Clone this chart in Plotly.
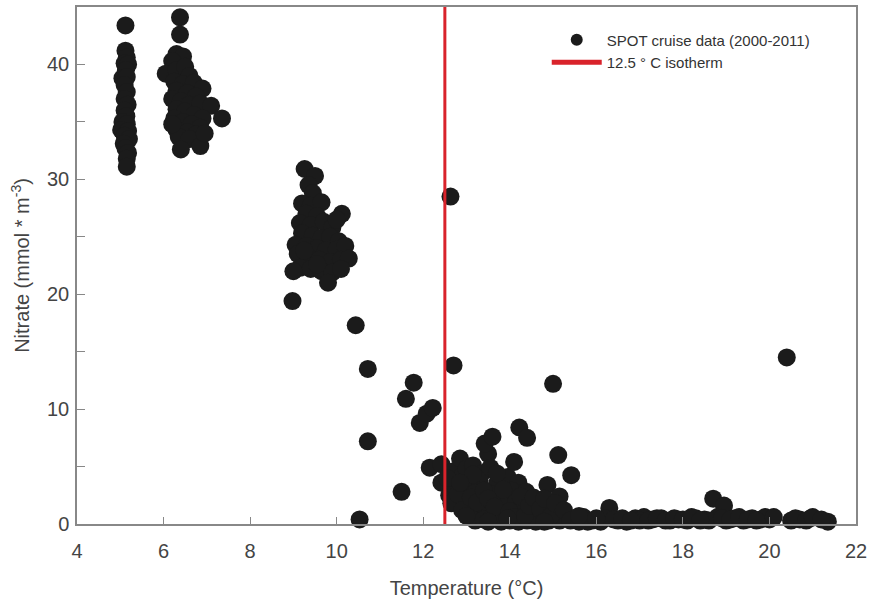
import plotly.graph_objects as go

# Temperature (°C) and nitrate (mmol m^-3)
temp_c1 = [5.12, 5.12, 5.15, 5.10, 5.18, 5.13, 5.05, 5.15, 5.10, 5.15, 5.10, 5.17, 5.10, 5.14,
           5.05, 5.15, 5.02, 5.18, 5.10, 5.20, 5.08, 5.12, 5.18, 5.15, 5.15]
nitr_c1 = [43.4, 41.2, 40.6, 40.1, 40.0, 39.5, 38.8, 38.9, 38.2, 37.6, 37.0, 36.5, 36.0, 35.5,
           35.0, 34.8, 34.3, 34.2, 33.8, 33.5, 33.1, 32.7, 32.3, 31.8, 31.1]

temp_c2 = [6.38, 6.38, 6.30, 6.45, 6.20, 6.05, 6.30, 6.50, 6.60, 6.25, 6.45, 6.70, 6.90, 6.30,
           6.55, 6.75, 6.20, 6.40, 6.60, 6.85, 7.10, 6.30, 6.50, 6.70, 6.90, 7.35, 6.25, 6.45,
           6.65, 6.85, 6.30, 6.55, 6.75, 6.35, 6.60, 6.40, 6.85, 6.20, 6.95]
nitr_c2 = [44.1, 42.6, 40.9, 40.7, 40.3, 39.2, 39.5, 39.8, 39.0, 38.5, 38.3, 38.4, 37.9, 37.7,
           37.5, 37.2, 37.0, 36.8, 36.5, 36.6, 36.4, 36.1, 35.9, 35.6, 35.3, 35.3, 35.3, 35.0,
           34.8, 34.5, 34.3, 34.1, 33.9, 33.7, 33.5, 32.6, 32.9, 34.8, 34.0]

temp_c3 = [9.26, 9.50, 9.35, 9.45, 9.20, 9.40, 9.65, 9.30, 9.55, 10.12, 9.15, 9.40, 9.70, 9.90,
           9.20, 9.45, 9.65, 9.85, 10.05, 9.05, 9.30, 9.55, 9.75, 10.00, 10.20, 9.10, 9.35, 9.60,
           9.85, 10.10, 10.28, 9.15, 9.40, 9.65, 9.90, 10.10, 9.80, 9.00, 8.98, 9.55, 9.25, 10.00]
nitr_c3 = [30.9, 30.3, 29.5, 28.8, 27.9, 27.7, 28.0, 27.0, 26.8, 27.0, 26.2, 26.0, 26.3, 25.8,
           25.3, 25.1, 24.9, 25.0, 24.6, 24.3, 24.2, 24.0, 23.8, 23.9, 24.2, 23.5, 23.2, 23.0,
           22.8, 23.0, 23.1, 22.3, 22.2, 22.0, 21.9, 22.2, 21.0, 22.0, 19.4, 22.6, 23.8, 26.5]

temp_mid = [10.44, 10.72, 10.72, 10.53, 11.50, 11.78, 11.60, 11.92, 12.08, 12.22, 12.63, 12.70,
            15.00, 20.40]
nitr_mid = [17.3, 13.5, 7.2, 0.4, 2.8, 12.3, 10.9, 8.8, 9.6, 10.1, 28.5, 13.8, 12.2, 14.5]

temp_low = [12.15, 12.42, 12.42, 12.60, 12.70, 12.85, 12.90, 12.75, 13.00, 13.15, 13.05, 13.30,
            13.20, 12.95, 13.10, 13.35, 13.50, 13.42, 13.60, 13.55, 13.70, 13.60, 13.80, 13.45,
            13.30, 13.20, 13.40, 13.60, 13.75, 13.90, 13.95, 14.10, 14.20, 14.05, 14.22, 14.40,
            14.15, 14.30, 14.38, 14.50, 14.00, 14.20, 14.60, 14.75, 14.87, 15.00, 15.15, 15.12,
            15.42, 15.30, 14.40, 14.60, 14.90, 15.15, 15.50, 15.70, 15.90, 16.10, 16.30, 16.50,
            16.70, 16.90, 17.10, 17.30, 17.50, 17.70, 17.90, 18.10, 18.30, 18.50, 18.70, 18.95,
            18.80, 19.00, 19.20, 19.40, 19.60, 19.80, 20.00, 20.50, 20.70, 20.95, 21.35, 13.80,
            15.80, 17.00, 18.60, 19.90,
            12.55, 12.65, 12.80, 12.90, 13.00, 13.10, 13.25, 13.40, 13.50, 13.65, 13.70, 13.85,
            14.00, 14.10, 14.25, 14.35, 14.45, 14.55, 14.70, 14.80, 14.95, 15.05, 15.25, 13.15,
            12.85, 13.50, 13.95, 14.80, 15.40, 15.60,
            16.20, 16.40, 16.60, 16.80, 17.20, 17.40, 17.60, 17.80, 18.00, 18.20, 18.40, 18.90,
            19.10, 19.30, 19.50, 19.70, 20.10, 20.60, 20.85, 21.00, 21.20, 15.60, 16.00]
nitr_low = [4.9, 5.2, 3.6, 2.5, 4.6, 5.7, 4.2, 3.2, 4.8, 5.1, 3.5, 3.8,
            2.7, 2.0, 1.6, 4.4, 6.1, 7.0, 7.6, 4.9, 3.5, 2.6, 2.1, 1.3,
            0.9, 0.3, 0.4, 0.6, 1.0, 1.6, 4.1, 5.4, 3.6, 2.9, 8.4, 7.5,
            1.9, 1.2, 2.8, 0.8, 0.3, 0.2, 1.8, 0.5, 3.4, 1.2, 2.4, 6.0,
            4.25, 0.6, 0.3, 0.2, 0.3, 0.3, 0.4, 0.6, 0.3, 0.2, 1.4, 0.3,
            0.2, 0.5, 0.6, 0.4, 0.5, 0.3, 0.4, 0.3, 0.5, 0.4, 2.2, 1.6,
            0.6, 0.3, 0.5, 0.3, 0.5, 0.4, 0.4, 0.3, 0.4, 0.5, 0.2, 0.2,
            0.2, 0.3, 0.3, 0.6,
            4.0, 1.8, 2.6, 1.2, 0.7, 2.3, 1.9, 2.9, 2.2, 1.5, 4.4, 3.0,
            1.1, 0.6, 2.4, 0.7, 1.6, 2.3, 1.3, 2.2, 0.7, 1.8, 1.2, 4.3,
            3.6, 0.2, 0.5, 0.2, 0.3, 0.2,
            0.5, 0.4, 0.5, 0.3, 0.3, 0.5, 0.3, 0.5, 0.4, 0.6, 0.3, 0.5,
            0.4, 0.6, 0.4, 0.3, 0.6, 0.5, 0.3, 0.6, 0.4, 0.7, 0.5]

temperature = temp_c1 + temp_c2 + temp_c3 + temp_mid + temp_low
nitrate = nitr_c1 + nitr_c2 + nitr_c3 + nitr_mid + nitr_low

isotherm_x = [12.5, 12.5]
isotherm_y = [0, 45]

x_ticks = [4, 6, 8, 10, 12, 14, 16, 18, 20, 22]
y_ticks = [0, 5, 10, 15, 20, 25, 30, 35, 40]
y_ticktext = ["0", "", "10", "", "20", "", "30", "", "40"]

FONT = "Liberation Sans, Arial, Helvetica, sans-serif"

fig = go.Figure()
fig.add_trace(go.Scatter(
    x=temperature, y=nitrate, mode="markers", name="SPOT cruise data (2000-2011)",
    marker=dict(size=18, color="#1b1b1b", line=dict(width=0)), cliponaxis=False))
fig.add_trace(go.Scatter(
    x=isotherm_x, y=isotherm_y, mode="lines", name="12.5 ° C isotherm",
    line=dict(color="#d9232b", width=3)))

fig.update_layout(
    width=872, height=604,
    margin=dict(l=77, r=12, t=5, b=80),
    paper_bgcolor="white", plot_bgcolor="white",
    font=dict(family=FONT, color="#444444"),
    showlegend=True,
    legend=dict(x=0.603, y=0.968, xanchor="left", yanchor="top",
                bgcolor="rgba(0,0,0,0)", font=dict(size=15, color="#333333"),
                itemsizing="constant", itemwidth=50, tracegroupgap=0),
)
fig.update_xaxes(range=[4, 22], tickvals=x_ticks, ticks="inside", ticklen=7, tickwidth=1,
                 tickcolor="#888888", showline=True, linecolor="#888888", linewidth=1.5,
                 mirror=True, showgrid=False, zeroline=False, ticklabelstandoff=8,
                 tickfont=dict(size=20, color="#444444"),
                 title=dict(text="Temperature (°C)", font=dict(size=20, color="#444444"), standoff=20))
fig.update_yaxes(range=[0, 45], tickvals=y_ticks, ticktext=y_ticktext, ticks="inside", ticklen=8,
                 tickwidth=1, tickcolor="#888888", showline=True, linecolor="#888888", linewidth=1.5,
                 mirror=True, showgrid=False, zeroline=False, ticklabelstandoff=2,
                 tickfont=dict(size=20, color="#444444"),
                 title=dict(text="Nitrate (mmol * m<sup>-3</sup>)", font=dict(size=20, color="#444444"), standoff=12))

fig.write_html("out.html")
